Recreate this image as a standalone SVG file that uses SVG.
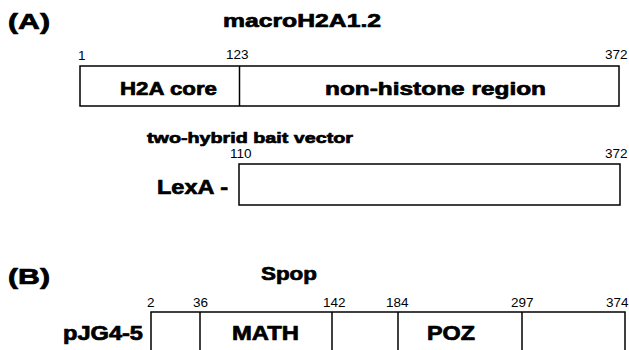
<svg xmlns="http://www.w3.org/2000/svg" width="629" height="350" viewBox="0 0 629 350">
<style>
.h{font-family:"Liberation Sans",Arial,sans-serif;font-weight:bold;fill:#000;stroke:#000;stroke-width:0.7;stroke-linejoin:round}
.n{font-family:"Liberation Sans",Arial,sans-serif;font-size:13.5px;fill:#000}
.box{fill:#fff;stroke:#000;stroke-width:1.5}
.div{stroke:#000;stroke-width:1.5}
</style>
<rect width="629" height="350" fill="#fff"/>
<g id="panelA">
  <text class="h" x="8" y="29" font-size="22" textLength="42" lengthAdjust="spacingAndGlyphs">(A)</text>
  <text class="h" x="223" y="27" font-size="19" textLength="158" lengthAdjust="spacingAndGlyphs">macroH2A1.2</text>
</g>
<g id="macroH2A">
  <text class="n" x="78" y="60">1</text>
  <text class="n" x="226" y="59">123</text>
  <text class="n" x="605" y="59">372</text>
  <rect class="box" x="80" y="66" width="539" height="40"/>
  <line class="div" x1="239.5" y1="66" x2="239.5" y2="106"/>
  <text class="h" x="120" y="95" font-size="19" textLength="97" lengthAdjust="spacingAndGlyphs">H2A core</text>
  <text class="h" x="325" y="95" font-size="19" textLength="221" lengthAdjust="spacingAndGlyphs">non-histone region</text>
</g>
<g id="bait">
  <text class="h" x="147" y="143" font-size="15.5" textLength="206" lengthAdjust="spacingAndGlyphs">two-hybrid bait vector</text>
  <text class="n" x="230" y="158">110</text>
  <text class="n" x="605" y="158">372</text>
  <text class="h" x="157" y="194" font-size="20" textLength="71" lengthAdjust="spacingAndGlyphs">LexA -</text>
  <rect class="box" x="239" y="164" width="381" height="41"/>
</g>
<g id="panelB">
  <text class="h" x="8" y="284" font-size="22" textLength="42" lengthAdjust="spacingAndGlyphs">(B)</text>
  <text class="h" x="261" y="280" font-size="19" textLength="56" lengthAdjust="spacingAndGlyphs">Spop</text>
</g>
<g id="spop">
  <text class="n" x="147" y="307">2</text>
  <text class="n" x="193" y="307">36</text>
  <text class="n" x="323" y="307">142</text>
  <text class="n" x="386" y="307">184</text>
  <text class="n" x="511" y="307">297</text>
  <text class="n" x="606" y="307">374</text>
  <text class="h" x="63" y="340" font-size="20" textLength="80" lengthAdjust="spacingAndGlyphs">pJG4-5</text>
  <rect class="box" x="151" y="312" width="474" height="50"/>
  <line class="div" x1="200" y1="312" x2="200" y2="350"/>
  <line class="div" x1="332" y1="312" x2="332" y2="350"/>
  <line class="div" x1="398" y1="312" x2="398" y2="350"/>
  <line class="div" x1="522" y1="312" x2="522" y2="350"/>
  <text class="h" x="232" y="340" font-size="20" textLength="67" lengthAdjust="spacingAndGlyphs">MATH</text>
  <text class="h" x="427" y="340" font-size="20" textLength="48" lengthAdjust="spacingAndGlyphs">POZ</text>
</g>
</svg>
